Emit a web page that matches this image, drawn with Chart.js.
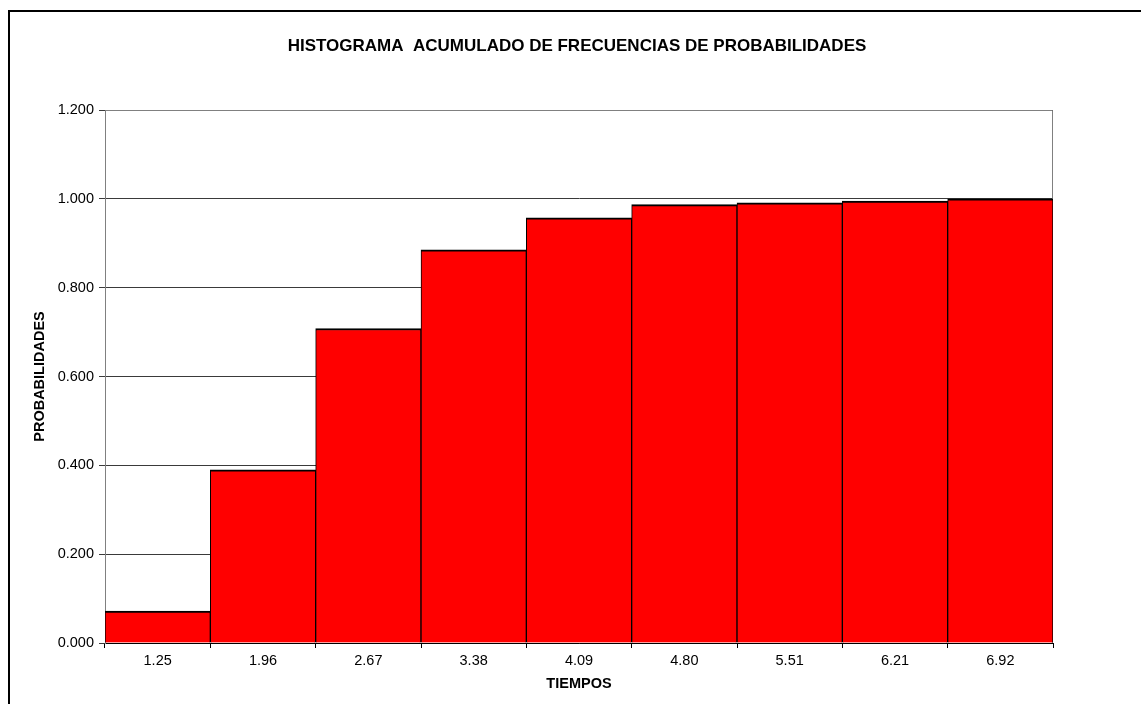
<!DOCTYPE html>
<html>
<head>
<meta charset="utf-8">
<title>Histograma acumulado</title>
<script src="https://cdn.jsdelivr.net/npm/chart.js@4/dist/chart.umd.min.js"></script>
<style>
  html, body { margin: 0; padding: 0; background: #ffffff; }
  canvas { display: block; }
</style>
</head>
<body>
<canvas id="chart" width="1141" height="704"></canvas>
<script>
// Tiempos (marcas de clase) y probabilidad acumulada de cada clase
const tiempos = ['1.25', '1.96', '2.67', '3.38', '4.09', '4.80', '5.51', '6.21', '6.92'];
const probabilidadesAcumuladas = [0.072, 0.390, 0.708, 0.885, 0.957, 0.987, 0.991, 0.995, 1.000];

const titulo = 'HISTOGRAMA  ACUMULADO DE FRECUENCIAS DE PROBABILIDADES';
const tituloX = 'TIEMPOS';
const tituloY = 'PROBABILIDADES';

const FONT = '"Liberation Sans", Arial, sans-serif';

// Marco exterior negro y borde gris del área de trazado
const marcos = {
  id: 'marcos',
  beforeDraw(chart) {
    const ctx = chart.ctx;
    ctx.save();
    ctx.fillStyle = '#ffffff';
    ctx.fillRect(0, 0, chart.width, chart.height);
    ctx.strokeStyle = '#000000';
    ctx.lineWidth = 2;
    ctx.beginPath();
    ctx.moveTo(9, chart.height + 5);
    ctx.lineTo(9, 11);
    ctx.lineTo(chart.width + 5, 11);
    ctx.stroke();
    ctx.restore();
  },
  beforeDatasetsDraw(chart) {
    const { ctx, chartArea: a } = chart;
    ctx.save();
    ctx.strokeStyle = '#808080';
    ctx.lineWidth = 1;
    ctx.beginPath();
    ctx.moveTo(Math.round(a.left) + 0.5, Math.round(a.top) + 0.5);
    ctx.lineTo(Math.round(a.right) - 0.5, Math.round(a.top) + 0.5);
    ctx.lineTo(Math.round(a.right) - 0.5, Math.round(a.bottom));
    ctx.stroke();
    ctx.restore();
  }
};

new Chart(document.getElementById('chart'), {
  type: 'bar',
  data: {
    labels: tiempos,
    datasets: [{
      data: probabilidadesAcumuladas,
      backgroundColor: '#ff0000',
      borderColor: '#000000',
      borderWidth: { top: 2, left: 1, right: 1, bottom: 0 },
      borderSkipped: 'start',
      barPercentage: 1,
      categoryPercentage: 1
    }]
  },
  options: {
    responsive: false,
    animation: false,
    events: [],
    layout: { padding: { left: 13, right: 0, top: 0, bottom: 0 } },
    plugins: {
      legend: { display: false },
      tooltip: { enabled: false },
      title: {
        display: true,
        text: titulo,
        color: '#000000',
        font: { family: FONT, size: 17, weight: 'bold', lineHeight: 1.2 },
        padding: { top: 36, bottom: 53.6 }
      }
    },
    scales: {
      x: {
        grid: {
          display: true,
          offset: true,
          drawOnChartArea: false,
          drawTicks: true,
          tickLength: 5,
          color: '#000000'
        },
        border: { display: true, color: '#000000', width: 1 },
        ticks: {
          color: '#000000',
          font: { family: FONT, size: 14.5, lineHeight: 1.2 },
          padding: 4,
          maxRotation: 0,
          autoSkip: false
        },
        title: {
          display: true,
          text: tituloX,
          color: '#000000',
          font: { family: FONT, size: 14.5, weight: 'bold', lineHeight: 1.2 },
          padding: { top: 0, bottom: 11.3 }
        },
        afterFit(scale) { scale.height = 61; }
      },
      y: {
        min: 0,
        max: 1.2,
        ticks: {
          stepSize: 0.2,
          color: '#000000',
          font: { family: FONT, size: 14.5, lineHeight: 1.2 },
          padding: 5,
          callback: (v) => Number(v).toFixed(3)
        },
        grid: {
          color: '#3a3a3a',
          lineWidth: 1,
          drawTicks: true,
          tickLength: 6
        },
        border: { display: true, color: '#808080', width: 1 },
        title: {
          display: true,
          text: tituloY,
          color: '#000000',
          font: { family: FONT, size: 14.5, weight: 'bold', lineHeight: 1.2 },
          padding: { top: 18.3, bottom: 0 }
        },
        afterFit(scale) { scale.width = 92; }
      },
      margenDerecho: {
        type: 'linear',
        position: 'right',
        display: true,
        grid: { display: false, drawTicks: false },
        border: { display: false },
        ticks: { display: false },
        afterFit(scale) { scale.width = 88; }
      }
    }
  },
  plugins: [marcos]
});
</script>
</body>
</html>
